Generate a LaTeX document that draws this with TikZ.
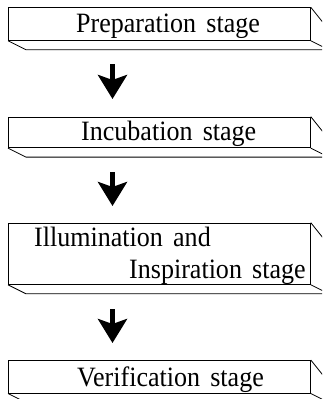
\documentclass[tikz,border=0pt]{standalone}
\usepackage{fontspec}
\setmainfont{Liberation Serif}
\usetikzlibrary{arrows.meta}
\tikzset{
  stagebox/.style={draw=black, line width=0.8pt, minimum width=302pt, anchor=north west, inner sep=0pt},
  edgeline/.style={draw=black, line width=0.8pt},
  stagetext/.style={anchor=base west, inner sep=0pt, font=\fontsize{28}{30}\selectfont},
  bigarrow/.style={line width=5pt, -{Stealth[length=24pt,width=29pt,inset=5pt]}}
}
\newcommand{\stxt}[1]{\scalebox{0.93}[1]{#1}}
\begin{document}
\begin{tikzpicture}[x=1pt,y=-1pt]
\clip (0,0) rectangle (322,399);
\fill[white] (0,0) rectangle (322,399);
% boxes
\node[stagebox, minimum height=32.7pt] (b1) at (8,7.3) {};
\node[stagebox, minimum height=30.6pt] (b2) at (8,116.7) {};
\node[stagebox, minimum height=61.3pt] (b3) at (8,222.7) {};
\node[stagebox, minimum height=32.7pt] (b4) at (8,360) {};
\foreach \b in {b1,b2,b3,b4}{
  \draw[edgeline] (\b.south west) -- ++(18,9) -- ++(310,0);
  \draw[edgeline] (\b.north east) -- ++(12,15);
  \draw[edgeline] (\b.south east) -- ++(12,6);
}
% texts
\node[stagetext] (t1) at (76,32.7) {\stxt{Preparation\hspace{11pt}stage}};
\node[stagetext] (t2) at (81,140.8) {\stxt{Incubation\hspace{11pt}stage}};
\node[stagetext] (t3a) at (34,246.7) {\stxt{Illumination\hspace{11pt}and}};
\node[stagetext] (t3b) at (129,278.3) {\stxt{Inspiration\hspace{11pt}stage}};
\node[stagetext] (t4) at (77,386.7) {\stxt{Verification\hspace{11pt}stage}};
% arrows
\coordinate (a1s) at (112.5,64);  \coordinate (a1e) at (112.5,99);
\coordinate (a2s) at (112.5,172); \coordinate (a2e) at (112.5,206);
\coordinate (a3s) at (112.5,309); \coordinate (a3e) at (112.5,343);
\draw[bigarrow] (a1s) -- (a1e);
\draw[bigarrow] (a2s) -- (a2e);
\draw[bigarrow] (a3s) -- (a3e);
\end{tikzpicture}
\end{document}
